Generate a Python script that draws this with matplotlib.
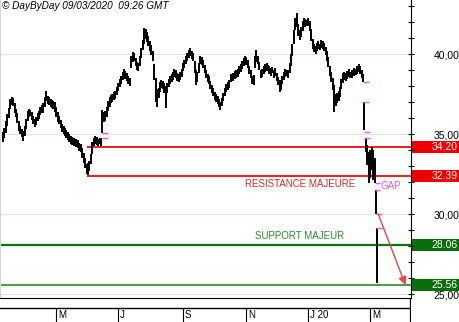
import matplotlib
matplotlib.use("Agg")
import matplotlib.pyplot as plt
import matplotlib.transforms as mtransforms
from matplotlib.patches import Rectangle
import pandas as pd

plt.rcParams['font.family'] = ['Liberation Sans', 'DejaVu Sans']

# daily bars, 11/03/2019 -> 09/03/2020
dates = pd.bdate_range('2019-03-11', '2020-03-09')

highs = [
    35.13, 35.38, 35.81, 36.25, 36.63, 37.19, 37.31, 37.25, 36.94, 36.56,
    36.31, 35.81, 35.50, 35.31, 35.19, 35.50, 35.94, 36.44, 36.56, 36.50,
    36.38, 36.13, 35.94, 36.06, 36.31, 36.44, 36.69, 36.81, 36.94, 37.31,
    37.69, 37.38, 37.31, 37.19, 37.13, 37.06, 37.00, 36.69, 36.38, 36.13,
    35.88, 35.63, 35.50, 35.38, 35.25, 35.13, 35.00, 34.88, 34.81, 34.75,
    34.69, 34.69, 34.63, 34.44, 34.38, 34.13, 33.81, 33.50, 33.13, 33.19,
    33.31, 33.75, 34.50, 34.75, 34.88, 34.81, 34.69, 34.75, 34.75, 36.50,
    36.38, 36.44, 36.69, 37.06, 37.31, 37.44, 37.50, 37.63, 37.69, 37.94,
    38.19, 38.44, 38.63, 38.88, 39.06, 38.94, 38.81, 38.63, 38.50, 39.88,
    40.13, 40.06, 39.75, 39.50, 39.44, 39.88, 40.38, 40.88, 41.63, 41.56,
    41.38, 41.13, 40.81, 40.56, 40.19, 39.38, 38.50, 37.81, 37.88, 38.25,
    38.38, 38.31, 38.19, 38.00, 38.19, 38.44, 38.63, 38.75, 38.88, 39.06,
    39.00, 38.81, 38.75, 38.88, 39.06, 39.44, 39.63, 39.88, 40.06, 40.25,
    40.38, 40.19, 40.06, 39.56, 39.00, 38.88, 39.44, 39.88, 39.81, 39.63,
    39.31, 39.00, 38.75, 38.63, 38.31, 38.06, 37.88, 37.63, 37.50, 37.38,
    37.19, 37.00, 37.25, 37.56, 37.88, 38.13, 38.25, 38.38, 38.75, 38.69,
    38.81, 38.94, 39.00, 39.06, 39.25, 39.38, 39.56, 39.75, 39.88, 39.81,
    39.63, 39.25, 39.00, 38.63, 38.69, 39.88, 40.25, 39.88, 39.50, 39.00,
    39.06, 39.25, 39.38, 39.44, 39.31, 39.25, 39.13, 39.19, 39.00, 39.13,
    38.81, 38.56, 38.38, 38.38, 38.63, 38.88, 39.06, 39.00, 39.00, 39.44,
    40.00, 40.63, 41.50, 42.25, 42.56, 41.88, 41.50, 41.69, 42.06, 42.25,
    42.19, 42.13, 42.25, 42.06, 41.56, 40.94, 40.63, 40.50, 40.69, 40.81,
    40.63, 40.88, 40.81, 40.69, 40.44, 40.19, 39.81, 39.25, 38.88, 38.50,
    38.06, 37.50, 37.56, 37.69, 37.94, 38.44, 38.81, 38.88, 38.81, 38.94,
    39.06, 38.88, 39.00, 39.00, 39.13, 39.06, 39.25, 39.38, 39.25, 39.00,
    38.75, 37.00, 34.75, 34.31, 33.88, 34.00, 34.19, 34.00, 33.50, 31.50,
    29.13,
]
lows = [
    34.50, 34.75, 35.06, 35.50, 36.00, 36.56, 36.81, 36.75, 36.31, 36.06,
    35.69, 35.19, 35.00, 34.81, 34.56, 34.88, 35.31, 35.81, 36.06, 36.13,
    35.88, 35.63, 35.44, 35.56, 35.81, 35.94, 36.19, 36.31, 36.31, 36.69,
    37.06, 36.88, 36.81, 36.69, 36.63, 36.56, 36.38, 36.06, 35.75, 35.63,
    35.38, 35.13, 35.00, 34.88, 34.75, 34.63, 34.50, 34.38, 34.31, 34.25,
    34.31, 34.19, 34.13, 33.94, 33.88, 33.50, 33.19, 32.88, 32.50, 32.44,
    32.69, 33.13, 33.75, 34.25, 34.38, 34.31, 34.25, 34.38, 34.25, 35.06,
    35.75, 35.81, 36.06, 36.44, 36.69, 36.94, 37.00, 37.13, 37.19, 37.44,
    37.69, 37.94, 38.13, 38.38, 38.56, 38.44, 38.31, 38.13, 38.00, 39.13,
    39.50, 39.56, 39.25, 39.00, 38.94, 39.25, 39.75, 40.25, 40.63, 40.94,
    40.75, 40.50, 40.19, 39.94, 39.56, 38.38, 37.00, 36.69, 37.25, 37.63,
    37.88, 37.81, 37.56, 36.63, 37.56, 37.94, 38.13, 38.25, 38.38, 38.56,
    38.50, 38.31, 38.25, 38.38, 38.56, 38.94, 39.13, 39.38, 39.56, 39.75,
    39.88, 39.69, 39.56, 38.81, 38.06, 38.25, 38.81, 39.38, 39.31, 39.13,
    38.81, 38.50, 38.25, 38.13, 37.81, 37.56, 37.38, 37.13, 37.00, 36.88,
    36.69, 36.50, 36.75, 37.06, 37.38, 37.63, 37.75, 37.88, 38.25, 38.31,
    38.31, 38.44, 38.50, 38.56, 38.75, 38.88, 39.06, 39.25, 39.38, 39.31,
    39.13, 38.75, 38.50, 38.13, 38.06, 39.13, 39.50, 39.38, 39.00, 38.50,
    38.56, 38.75, 38.88, 38.94, 38.94, 38.75, 38.63, 38.81, 38.50, 38.63,
    38.31, 38.06, 37.63, 37.75, 38.13, 38.38, 38.56, 38.63, 38.50, 38.81,
    39.25, 39.88, 40.63, 41.50, 41.69, 41.13, 40.88, 41.06, 41.44, 41.75,
    41.69, 41.75, 41.75, 41.44, 40.81, 40.31, 40.13, 40.00, 40.19, 40.31,
    40.25, 40.38, 40.31, 40.19, 39.94, 39.56, 39.19, 38.63, 38.25, 37.75,
    36.38, 36.75, 36.94, 37.06, 37.31, 37.81, 38.19, 38.38, 38.31, 38.44,
    38.56, 38.50, 38.50, 38.63, 38.63, 38.69, 38.75, 38.88, 38.75, 38.50,
    38.25, 35.25, 33.88, 33.06, 31.94, 32.25, 32.75, 32.13, 31.94, 30.00,
    25.69,
]

# gap markers (bar index, price)
gap_idx = [70, 70, 251, 251, 252, 252, 259, 259, 260, 260]
gap_price = [35.06, 34.75, 38.25, 37.00, 35.13, 34.75, 31.94, 31.50, 30.00, 29.13]

resistances = [34.20, 32.39]
supports = [28.06, 25.56]
res_start = 58

month_labels = ['M', 'J', 'S', 'N', 'J 20', 'M']
month_starts = ['2019-05', '2019-07', '2019-09', '2019-11', '2020-01', '2020-03']

red = '#e41010'
green = '#0b760b'
pink = '#e25be2'

fig = plt.figure(figsize=(4.6, 3.22), dpi=100)
ax = fig.add_axes([0, 24 / 322, 411 / 460, 298 / 322])
axm = fig.add_axes([0, 0, 411 / 460, 24 / 322])

x = range(len(dates))
xlim = (-2.1, 283.3)
ax.set_xlim(*xlim)
ax.set_ylim(24.75, 43.375)

# grid
ax.set_yticks([25, 30, 35, 40])
ax.set_yticks(range(25, 44), minor=True)
ax.grid(axis='y', which='major', color='#dfead5', lw=0.9, zorder=0)
ax.set_xticks([])

# support / resistance
for lvl in resistances:
    ax.hlines(lvl, res_start, xlim[1], color=red, lw=1.3, zorder=2)
ax.axhline(supports[0], color=green, lw=1.6, zorder=2)
ax.axhline(supports[1], color='#2b8a2b', lw=1.2, zorder=2)

# bars
ax.vlines(x, lows, highs, color='black', lw=1.4, zorder=3)

# gaps
for gi, gp in zip(gap_idx, gap_price):
    ax.hlines(gp, gi - 1, gi + 3, color=pink, lw=1.0, zorder=4)
ax.text(262, 31.72, 'GAP', color=pink, fontsize=7, va='center', ha='left')

# arrow
ax.annotate('', xy=(279.5, supports[1]), xytext=(260.5, 30.0),
            arrowprops=dict(arrowstyle='-|>', color='#e84545', lw=1.0,
                            mutation_scale=12, shrinkA=0, shrinkB=0),
            zorder=5)

ax.text(206, 31.87, 'RESISTANCE MAJEURE', color='#d42a2a', fontsize=7,
        ha='center', va='center')
ax.text(206, 28.65, 'SUPPORT MAJEUR', color='#2e8b2e', fontsize=7,
        ha='center', va='center')

ax.text(0.006, 0.995, '© DayByDay 09/03/2020  09:26 GMT', transform=ax.transAxes,
        fontsize=7.2, style='italic', ha='left', va='top')

# right axis
ax.yaxis.tick_right()
ax.tick_params(axis='y', which='both', direction='inout', length=4, width=0.8,
               right=True, left=False, labelright=True, labelleft=False,
               pad=33, labelsize=7.5)
ax.set_yticklabels([f'{v:.2f}'.replace('.', ',') for v in [25, 30, 35, 40]])
for lab in ax.get_yticklabels():
    lab.set_ha('right')

trans = mtransforms.blended_transform_factory(ax.transAxes, ax.transData)
for lvl, col in [(resistances[0], '#ee0000'), (resistances[1], '#ee0000'),
                 (supports[0], '#0a6e0a'), (supports[1], '#0a6e0a')]:
    ax.add_patch(Rectangle((1.003, lvl - 0.36), 0.118, 0.72, transform=trans,
                           facecolor=col, edgecolor='none', clip_on=False))
    ax.text(1.114, lvl, f'{lvl:.2f}', transform=trans, color='white',
            fontsize=7.5, ha='right', va='center', clip_on=False)

ax.spines['top'].set_visible(False)
ax.spines['left'].set_color('#d8d8d8')
ax.spines['right'].set_color('black')
ax.spines['bottom'].set_color('black')

# month strip
axm.set_xlim(*xlim)
axm.set_ylim(0, 24)
axm.axis('off')
axm.axhline(14, color='black', lw=1.0)
axm.axvline(xlim[1], color='black', lw=1.6)
for lab, m in zip(month_labels, month_starts):
    i = dates.searchsorted(pd.Timestamp(m + '-01'))
    axm.vlines(i, 0, 14, color='black', lw=0.8)
    axm.text(i + 1.2, 6.5, lab, fontsize=7, ha='left', va='center')

fig.savefig('out.png', dpi=100)
